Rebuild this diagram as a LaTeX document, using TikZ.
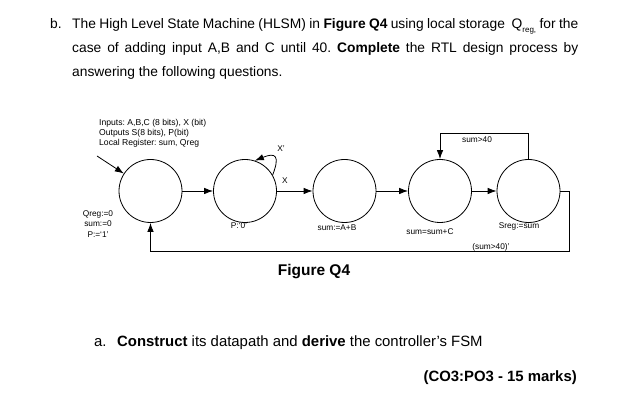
\documentclass[tikz,border=0pt]{standalone}
\usepackage{fontspec}
\setmainfont{Liberation Sans}
\usetikzlibrary{arrows.meta}
\tikzset{
  st/.style={circle, draw, minimum size=63pt, inner sep=0pt, line width=0.8pt},
  arr/.style={-{Latex[length=9pt,width=6.5pt]}, line width=0.8pt},
  lbl/.style={font=\fontsize{8.3}{9.5}\selectfont, inner sep=0pt},
  hdr/.style={font=\fontsize{8.6}{10}\selectfont, inner sep=0pt, anchor=base west},
  body/.style={font=\fontsize{13.8}{16}\selectfont, inner sep=0pt, anchor=base west},
  bodyb/.style={font=\fontsize{14.9}{17}\selectfont, inner sep=0pt, anchor=base west},
}
\newcommand{\qsub}[1]{\raisebox{-0.45ex}{\fontsize{8}{8}\selectfont #1}}
\begin{document}
\frenchspacing
\begin{tikzpicture}[x=1pt,y=-1pt]
\useasboundingbox (0,0) rectangle (633,411);
\fill[white] (0,0) rectangle (633,411);

% question text
\node[body] (qb) at (50,29) {b.};
\node[body] (l1) at (72,29) {\hbox to 506pt{The High Level State Machine (HLSM) in \textbf{Figure Q4} using local storage \ Q\qsub{reg,} for the}};
\node[body] (l2) at (72,53) {\hbox to 506pt{case of adding input A,B and C until 40. \textbf{Complete} the RTL design process by}};
\node[body] (l3) at (72,77) {answering the following questions.};

% header of the diagram
\node[hdr] (h1) at (99,126) {Inputs: A,B,C (8 bits), X (bit)};
\node[hdr] (h2) at (99,136) {Outputs S(8 bits), P(bit)};
\node[hdr] (h3) at (99,146) {Local Register: sum, Qreg};

% states
\node[st] (s1) at (150.5,191) {};
\node[st] (s2) at (245,191) {};
\node[st] (s3) at (344.5,191) {};
\node[st] (s4) at (440,191) {};
\node[st] (s5) at (528.5,191) {};

% connectors
\coordinate (init) at (97,156);
\draw[arr] (init) -- (s1);
\draw[arr] (s1) -- (s2);
\draw[arr] (s2) -- (s3);
\draw[arr] (s3) -- (s4);
\draw[arr] (s4) -- (s5);
\draw[arr] (s2.30) .. controls (280,156) and (276,152) .. (s2.72);
\draw[arr] (s5.north) -- ++(0,-26) -| (s4.north);
\coordinate (br) at (569,251);
\draw[arr] (s5.east) -| (br) -| (s1.south);

% labels
\node[lbl, align=center] (a1) at (98,224) {Qreg:=0\\[1.2pt]sum:=0\\[1.2pt]P:=`1'};
\node[lbl] (xp) at (281,149) {X'};
\node[lbl] (xx) at (285,181) {X};
\node[lbl] (a2) at (239,226) {P:`0'};
\node[lbl] (a3) at (337,228) {sum:=A+B};
\node[lbl] (a4) at (430,232) {sum=sum+C};
\node[lbl] (a5) at (519,226) {Sreg:=sum};
\node[lbl] (c1) at (477,140) {sum>40};
\node[lbl] (c2) at (491,247) {(sum>40)'};

\node[font=\bfseries\fontsize{15.5}{18}\selectfont, inner sep=0pt] (fig) at (314,272) {Figure Q4};

\node[bodyb] (qa) at (94,347) {a.};
\node[bodyb] (qa2) at (117,347) {\textbf{Construct} its datapath and \textbf{derive} the controller's FSM};
\node[bodyb, anchor=base east, font=\bfseries\fontsize{14.9}{17}\selectfont] (mk) at (577,382) {(CO3:PO3 - 15 marks)};
\end{tikzpicture}
\end{document}
